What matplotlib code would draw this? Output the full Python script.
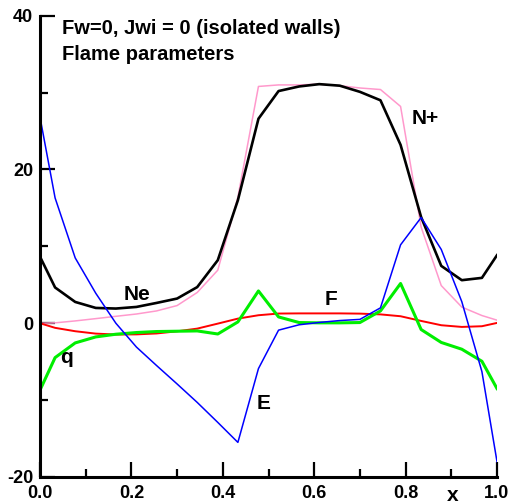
import matplotlib
matplotlib.use("Agg")
import matplotlib.pyplot as plt
from matplotlib.ticker import MultipleLocator

plt.rcParams['font.family'] = ['Liberation Sans', 'DejaVu Sans']
plt.rcParams['font.weight'] = 'bold'

x = [0.0, 0.033, 0.077, 0.122, 0.166, 0.211, 0.255, 0.300, 0.344, 0.389, 0.433, 0.478,
     0.522, 0.567, 0.611, 0.656, 0.700, 0.745, 0.789, 0.834, 0.878, 0.923, 0.967, 1.0]

ne = [8.65, 4.65, 2.77, 1.99, 1.91, 2.12, 2.64, 3.21, 4.7, 8.2, 16.0, 26.6,
      30.2, 30.8, 31.1, 30.9, 30.1, 29.0, 23.2, 13.8, 7.46, 5.6, 5.9, 8.85]
nplus = [0.0, 0.05, 0.3, 0.6, 0.9, 1.2, 1.6, 2.3, 4.0, 6.9, 16.4, 30.8,
         31.0, 31.0, 31.1, 30.9, 30.6, 30.4, 28.2, 12.5, 4.9, 2.1, 1.0, 0.4]
f_vals = [0.0, -0.6, -1.04, -1.35, -1.47, -1.45, -1.33, -1.05, -0.7, -0.05, 0.6, 1.04,
          1.26, 1.28, 1.28, 1.28, 1.25, 1.15, 0.91, 0.3, -0.26, -0.48, -0.39, 0.04]
q_vals = [-8.7, -4.47, -2.56, -1.78, -1.43, -1.21, -1.08, -1.04, -1.0, -1.4, 0.17, 4.2,
          0.82, 0.09, 0.05, 0.05, 0.09, 1.6, 5.17, -0.82, -2.5, -3.38, -4.95, -8.5]
e_vals = [26.8, 16.3, 8.5, 3.9, 0.0, -3.1, -5.5, -7.9, -10.3, -12.9, -15.5, -5.9,
          -0.9, -0.2, 0.1, 0.35, 0.5, 2.0, 10.2, 13.75, 9.6, 2.8, -6.3, -18.0]

fig = plt.figure(figsize=(5.11, 5.04), dpi=100)
ax = fig.add_axes([0.0783, 0.0536, 0.8943, 0.9152])

ax.plot(x, nplus, color='#ff99cc', lw=1.1)
ax.plot(x, ne, color='black', lw=1.9)
ax.plot(x, f_vals, color='#ff0000', lw=1.4)
ax.plot(x, q_vals, color='#00ee00', lw=2.2)
ax.plot(x, e_vals, color='#0000ff', lw=1.1)

ax.set_xlim(0, 1.0)
ax.set_ylim(-20, 40)
for s in ['top', 'right']:
    ax.spines[s].set_visible(False)
for s in ['left', 'bottom']:
    ax.spines[s].set_linewidth(2.2)

ax.xaxis.set_major_locator(MultipleLocator(0.2))
ax.xaxis.set_minor_locator(MultipleLocator(0.1))
ax.yaxis.set_major_locator(MultipleLocator(20))
ax.yaxis.set_minor_locator(MultipleLocator(10))
ax.tick_params(which='major', direction='in', length=11, width=1.6, labelsize=13)
ax.tick_params(which='minor', direction='in', length=5.5, width=1.6)
ax.tick_params(axis='x', which='major', pad=6)
ax.tick_params(axis='y', which='major', pad=5)
ax.set_xticks([0.0, 0.2, 0.4, 0.6, 0.8, 1.0])
ax.set_xticklabels(['0.0', '0.2', '0.4', '0.6', '0.8', '1.0'], fontweight='bold')
ax.set_yticks([-20, 0, 20, 40])
ax.set_yticklabels(['-20', '0', '20', '40'], fontweight='bold')

kw = dict(fontsize=15, fontweight='bold', ha='center', va='center')
ax.text(0.212, 3.7, 'Ne', **kw)
ax.text(0.842, 26.6, 'N+', **kw)
ax.text(0.637, 3.1, 'F', **kw)
ax.text(0.058, -4.4, 'q', **kw)
ax.text(0.490, -10.4, 'E', **kw)
ax.text(0.904, -22.4, 'x', clip_on=False, **kw)

ax.text(0.048, 38.3, 'Fw=0, Jwi = 0 (isolated walls)', fontsize=14.5, fontweight='bold',
        ha='left', va='center')
ax.text(0.048, 35.0, 'Flame parameters', fontsize=14.5, fontweight='bold',
        ha='left', va='center')

fig.savefig('out.png', dpi=100)
